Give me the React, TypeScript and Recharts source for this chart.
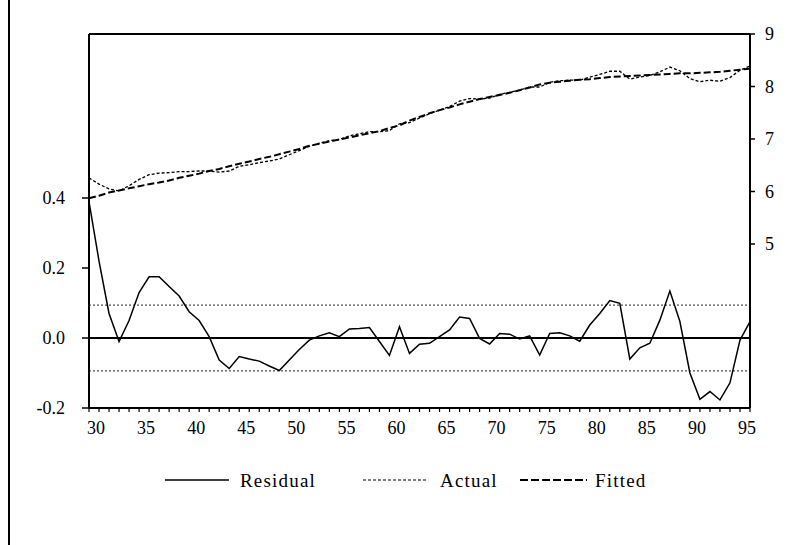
import React from 'react';
import { ComposedChart, Line, XAxis, YAxis, ReferenceLine } from 'recharts';

const years = [
  1929, 1930, 1931, 1932, 1933, 1934, 1935, 1936, 1937, 1938, 1939, 1940,
  1941, 1942, 1943, 1944, 1945, 1946, 1947, 1948, 1949, 1950, 1951, 1952,
  1953, 1954, 1955, 1956, 1957, 1958, 1959, 1960, 1961, 1962, 1963, 1964,
  1965, 1966, 1967, 1968, 1969, 1970, 1971, 1972, 1973, 1974, 1975, 1976,
  1977, 1978, 1979, 1980, 1981, 1982, 1983, 1984, 1985, 1986, 1987, 1988,
  1989, 1990, 1991, 1992, 1993, 1994, 1995,
];

const residual = [
  0.39, 0.22, 0.07, -0.01, 0.05, 0.13, 0.175, 0.175, 0.147, 0.12, 0.075, 0.05,
  0.004, -0.063, -0.087, -0.053, -0.06, -0.066, -0.08, -0.093, -0.063, -0.033, -0.006, 0.006,
  0.015, 0.004, 0.026, 0.027, 0.03, -0.01, -0.05, 0.032, -0.044, -0.018, -0.015, 0.004,
  0.023, 0.06, 0.056, -0.001, -0.017, 0.013, 0.011, -0.003, 0.006, -0.049, 0.013, 0.015,
  0.006, -0.009, 0.037, 0.07, 0.107, 0.099, -0.06, -0.028, -0.015, 0.051, 0.134, 0.047,
  -0.1, -0.175, -0.153, -0.177, -0.128, -0.006, 0.047,
];

const actual = [
  6.26, 6.14, 6.05, 6.01, 6.11, 6.23, 6.32, 6.35, 6.36, 6.38, 6.38, 6.39,
  6.39, 6.37, 6.39, 6.48, 6.51, 6.55, 6.58, 6.62, 6.7, 6.78, 6.86, 6.92,
  6.97, 6.99, 7.06, 7.1, 7.14, 7.14, 7.16, 7.29, 7.31, 7.4, 7.48, 7.55,
  7.62, 7.72, 7.77, 7.76, 7.78, 7.85, 7.89, 7.93, 7.99, 7.99, 8.08, 8.11,
  8.12, 8.12, 8.18, 8.23, 8.29, 8.29, 8.14, 8.18, 8.21, 8.28, 8.37, 8.3,
  8.15, 8.09, 8.12, 8.1, 8.17, 8.31, 8.39,
];

const fitted = [
  5.87, 5.92, 5.98, 6.02, 6.06, 6.1, 6.14, 6.17, 6.21, 6.26, 6.3, 6.34,
  6.39, 6.43, 6.48, 6.53, 6.57, 6.62, 6.66, 6.71, 6.76, 6.81, 6.87, 6.91,
  6.95, 6.99, 7.03, 7.07, 7.11, 7.15, 7.21, 7.26, 7.35, 7.42, 7.49, 7.55,
  7.6, 7.66, 7.71, 7.76, 7.8, 7.84, 7.88, 7.93, 7.98, 8.04, 8.07, 8.09,
  8.11, 8.13, 8.14, 8.16, 8.18, 8.19, 8.2, 8.21, 8.22, 8.23, 8.24, 8.25,
  8.25, 8.26, 8.27, 8.28, 8.3, 8.32, 8.34,
];

const leftTicks = [-0.2, 0, 0.2, 0.4];
const rightTicks = [5, 6, 7, 8, 9];
const seBand = 0.094;

const data = years.map((year, i) => ({
  year,
  residual: residual[i],
  actual: actual[i],
  fitted: fitted[i],
}));

const font = "'Times New Roman', 'Liberation Serif', serif";

const YearTick = (props: any) => {
  const { x, y, payload } = props;
  const v = payload.value as number;
  if (v % 5 !== 0) return null;
  return (
    <text x={x - 3} y={y} dy="0.71em" textAnchor="middle" fontFamily={font} fontSize={18} fill="#000">
      {String(v).slice(2)}
    </text>
  );
};

const legendItems = [
  { label: 'Residual', dash: undefined, width: 1.5, x1: 165, x2: 229, tx: 240 },
  { label: 'Actual', dash: '3 2', width: 1.2, x1: 363, x2: 428, tx: 440 },
  { label: 'Fitted', dash: '8 3', width: 2, x1: 520, x2: 587, tx: 595 },
];

export default function App() {
  return (
    <div style={{ position: 'absolute', left: 0, top: 0, width: 808, height: 545, background: '#fff' }}>
      <div style={{ position: 'absolute', left: 8, top: 0, width: 2, height: 545, background: '#000' }} />
      <ComposedChart
        width={808}
        height={440}
        data={data}
        margin={{ top: 34, right: 8, left: 39, bottom: 2 }}
      >
        <XAxis
          dataKey="year"
          type="number"
          domain={[1929, 1995]}
          ticks={years}
          interval={0}
          tick={<YearTick />}
          tickSize={4}
          tickMargin={9}
          height={30}
          stroke="#000"
          axisLine={{ stroke: '#000', strokeWidth: 2 }}
          tickLine={{ stroke: '#000', strokeWidth: 1.2 }}
        />
        <YAxis
          yAxisId="left"
          orientation="left"
          type="number"
          domain={[-0.2, 0.8686]}
          allowDataOverflow
          ticks={leftTicks}
          width={50}
          tickSize={7}
          tickMargin={17}
          tickFormatter={(v: number) => v.toFixed(1)}
          tick={{ fill: '#000', fontFamily: font, fontSize: 18 }}
          axisLine={{ stroke: '#000', strokeWidth: 2 }}
          tickLine={{ stroke: '#000', strokeWidth: 1.5 }}
        />
        <YAxis
          yAxisId="right"
          orientation="right"
          type="number"
          domain={[1.876, 9]}
          allowDataOverflow
          ticks={rightTicks}
          width={50}
          tickSize={5}
          tickMargin={10}
          tick={{ fill: '#000', fontFamily: font, fontSize: 18 }}
          axisLine={{ stroke: '#000', strokeWidth: 2 }}
          tickLine={{ stroke: '#000', strokeWidth: 1.5 }}
        />
        <ReferenceLine yAxisId="right" y={9} stroke="#000" strokeWidth={2} />
        <ReferenceLine yAxisId="left" y={0} stroke="#000" strokeWidth={2} />
        <ReferenceLine yAxisId="left" y={seBand} stroke="#222" strokeWidth={1} strokeDasharray="2 2" />
        <ReferenceLine yAxisId="left" y={-seBand} stroke="#222" strokeWidth={1} strokeDasharray="2 2" />
        <Line
          yAxisId="left"
          type="linear"
          dataKey="residual"
          stroke="#000"
          strokeWidth={1.5}
          dot={false}
          isAnimationActive={false}
        />
        <Line
          yAxisId="right"
          type="linear"
          dataKey="actual"
          stroke="#000"
          strokeWidth={1.3}
          strokeDasharray="3 2"
          dot={false}
          isAnimationActive={false}
        />
        <Line
          yAxisId="right"
          type="linear"
          dataKey="fitted"
          stroke="#000"
          strokeWidth={2}
          strokeDasharray="7 3"
          dot={false}
          isAnimationActive={false}
        />
      </ComposedChart>
      {legendItems.map((it) => (
        <React.Fragment key={it.label}>
          <svg
            style={{ position: 'absolute', left: it.x1, top: 475 }}
            width={it.x2 - it.x1}
            height={10}
          >
            <line
              x1={0}
              y1={5}
              x2={it.x2 - it.x1}
              y2={5}
              stroke="#000"
              strokeWidth={it.width}
              strokeDasharray={it.dash}
            />
          </svg>
          <div
            style={{
              position: 'absolute',
              left: it.tx,
              top: 469,
              fontFamily: font,
              fontSize: 19,
              letterSpacing: 1.2,
              lineHeight: '24px',
              color: '#000',
            }}
          >
            {it.label}
          </div>
        </React.Fragment>
      ))}
    </div>
  );
}
